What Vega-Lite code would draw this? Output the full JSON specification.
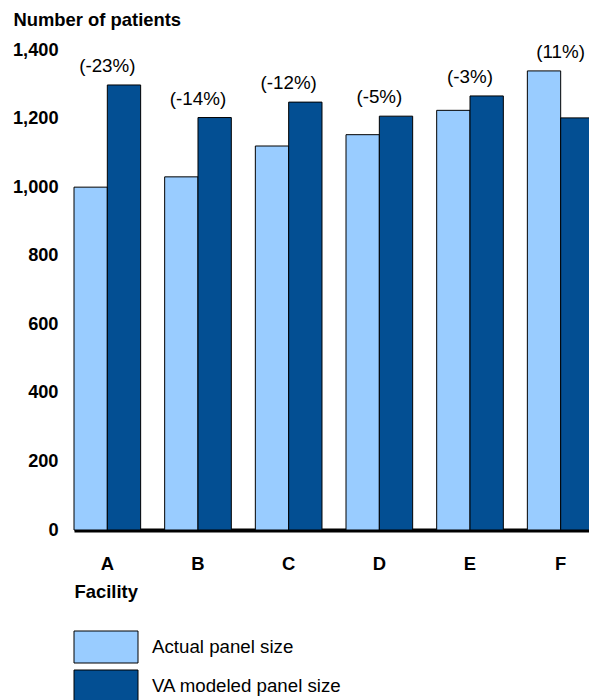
{
  "$schema": "https://vega.github.io/schema/vega-lite/v6.json",
  "width": 520,
  "height": 480,
  "padding": {"left": 12, "top": 10, "right": 0, "bottom": 0},
  "background": "white",
  "config": {
    "font": "Liberation Sans",
    "view": {"stroke": null},
    "axis": {"labelColor": "black", "titleColor": "black"}
  },
  "data": {
    "values": [
      {"facility": "A", "series": "Actual panel size", "patients": 1000, "change": "(-23%)"},
      {"facility": "A", "series": "VA modeled panel size", "patients": 1298, "change": "(-23%)"},
      {"facility": "B", "series": "Actual panel size", "patients": 1030, "change": "(-14%)"},
      {"facility": "B", "series": "VA modeled panel size", "patients": 1203, "change": "(-14%)"},
      {"facility": "C", "series": "Actual panel size", "patients": 1120, "change": "(-12%)"},
      {"facility": "C", "series": "VA modeled panel size", "patients": 1248, "change": "(-12%)"},
      {"facility": "D", "series": "Actual panel size", "patients": 1153, "change": "(-5%)"},
      {"facility": "D", "series": "VA modeled panel size", "patients": 1207, "change": "(-5%)"},
      {"facility": "E", "series": "Actual panel size", "patients": 1224, "change": "(-3%)"},
      {"facility": "E", "series": "VA modeled panel size", "patients": 1266, "change": "(-3%)"},
      {"facility": "F", "series": "Actual panel size", "patients": 1339, "change": "(11%)"},
      {"facility": "F", "series": "VA modeled panel size", "patients": 1202, "change": "(11%)"}
    ]
  },
  "layer": [
    {
      "mark": {"type": "bar", "stroke": "black", "strokeWidth": 1},
      "encoding": {
        "x": {
          "field": "facility",
          "type": "nominal",
          "scale": {"paddingInner": 0.265, "paddingOuter": 0},
          "axis": {
            "title": "Facility",
            "titleFontSize": 18.4,
            "titleFontWeight": "bold",
            "titleAlign": "left",
            "titleAnchor": "start",
            "titleX": 0,
            "titleY": 67,
            "titleBaseline": "alphabetic",
            "labelAngle": 0,
            "labelFontSize": 18.4,
            "labelFontWeight": "bold",
            "labelPadding": 24,
            "ticks": false,
            "domainColor": "black",
            "domainWidth": 4,
            "grid": false
          }
        },
        "xOffset": {"field": "series", "sort": ["Actual panel size", "VA modeled panel size"]},
        "y": {
          "field": "patients",
          "type": "quantitative",
          "scale": {"domain": [0, 1400]},
          "axis": {
            "title": "Number of patients",
            "titleAngle": 0,
            "titleAlign": "left",
            "titleBaseline": "alphabetic",
            "titleX": -61,
            "titleY": -25,
            "titleFontSize": 18.4,
            "titleFontWeight": "bold",
            "labelFontSize": 18.2,
            "labelFontWeight": "bold",
            "labelPadding": 16,
            "values": [0, 200, 400, 600, 800, 1000, 1200, 1400],
            "format": ",.0f",
            "ticks": false,
            "domain": false,
            "grid": false
          }
        },
        "color": {
          "field": "series",
          "type": "nominal",
          "scale": {
            "domain": ["Actual panel size", "VA modeled panel size"],
            "range": ["#99CCFF", "#034F93"]
          },
          "legend": {
            "title": null,
            "orient": "none",
            "direction": "vertical",
            "legendX": 15.5,
            "legendY": 580.5,
            "padding": 0,
            "symbolType": "M-2,-1H2V1H-2Z",
            "symbolSize": 1024,
            "symbolStrokeColor": "black",
            "symbolStrokeWidth": 1,
            "symbolOpacity": 1,
            "labelFontSize": 18.7,
            "labelColor": "black",
            "labelOffset": 29.5,
            "rowPadding": 2,
            "labelLimit": 400
          }
        }
      }
    },
    {
      "transform": [
        {"aggregate": [{"op": "max", "field": "patients", "as": "top"}], "groupby": ["facility", "change"]}
      ],
      "mark": {"type": "text", "dy": -19, "fontSize": 18.8, "baseline": "middle", "color": "black"},
      "encoding": {
        "x": {"field": "facility", "type": "nominal"},
        "y": {"field": "top", "type": "quantitative"},
        "text": {"field": "change"}
      }
    }
  ]
}
